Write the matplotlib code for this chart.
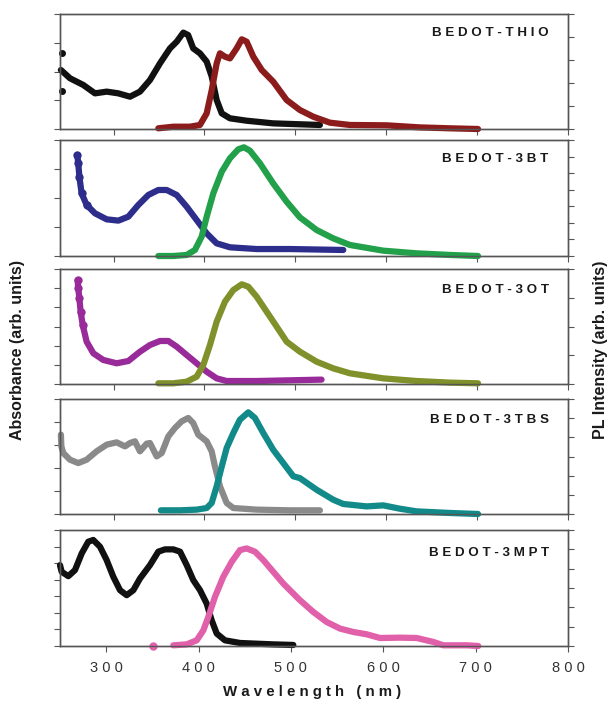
import numpy as np
import matplotlib.pyplot as plt

plt.rcParams['font.family'] = ['Liberation Sans', 'DejaVu Sans']

# ---- data (wavelength in nm, intensity as fraction of each panel height) ----
# BEDOT-THIO
thio_abs_x = [242, 252, 266.6, 279.5, 292.4, 305.2, 318, 329, 340, 351, 362, 369.4, 376.7, 382,
              387.6, 395, 402.4, 408, 413.4, 419, 428, 446.4, 475.6, 505, 527]
thio_abs_y = [0.513, 0.441, 0.383, 0.310, 0.325, 0.310, 0.281, 0.325, 0.426, 0.571, 0.701, 0.759,
              0.838, 0.817, 0.701, 0.658, 0.586, 0.455, 0.252, 0.136, 0.093, 0.072, 0.049, 0.041, 0.035]
thio_abs_noise_x = [243, 243]
thio_abs_noise_y = [0.66, 0.33]
thio_pl_x = [349.2, 365.7, 384, 395, 402.4, 408, 413.4, 417, 422.5, 428, 435.4, 441, 446.4, 453.7,
             463, 475.6, 490.4, 505, 519.7, 538, 560, 600.4, 637, 670, 701]
thio_pl_y = [0.006, 0.02, 0.02, 0.035, 0.136, 0.339, 0.571, 0.658, 0.629, 0.614, 0.701, 0.78, 0.759,
             0.629, 0.513, 0.412, 0.252, 0.165, 0.107, 0.055, 0.035, 0.032, 0.014, 0.006, 0.0]

# BEDOT-3BT
bt_abs_x = [260, 261.1, 262.3, 264.8, 270.3, 279.5, 292.4, 305.2, 316.2, 327.2, 338.2, 349.2, 358.4,
            369.4, 380.4, 391.4, 402.4, 413.4, 428, 457.4, 494, 552.7]
bt_abs_y = [0.871, 0.799, 0.684, 0.540, 0.440, 0.368, 0.316, 0.305, 0.339, 0.440, 0.526, 0.569, 0.569,
            0.526, 0.425, 0.310, 0.195, 0.109, 0.075, 0.060, 0.060, 0.052]
bt_pl_x = [349.2, 365.7, 380.4, 389.5, 396.9, 402.4, 409.7, 419, 428, 437.2, 443.4, 450, 461, 475.6,
           490.4, 505, 523.4, 541.7, 560, 596.7, 633.4, 670, 701]
bt_pl_y = [0.0, 0.0, 0.009, 0.052, 0.167, 0.339, 0.540, 0.727, 0.842, 0.920, 0.937, 0.908, 0.799,
           0.626, 0.468, 0.333, 0.224, 0.152, 0.095, 0.046, 0.023, 0.009, 0.0]

# BEDOT-3OT
ot_abs_x = [260.4, 261.1, 262.3, 263.7, 266, 270.3, 277.7, 288.6, 303.3, 316.2, 329, 340, 351, 360.2,
            369.4, 380.4, 391.4, 402.4, 413.4, 424.4, 457.4, 494, 528.8]
ot_abs_y = [0.904, 0.832, 0.745, 0.629, 0.513, 0.368, 0.267, 0.209, 0.180, 0.200, 0.281, 0.339, 0.374,
            0.374, 0.325, 0.252, 0.180, 0.107, 0.049, 0.026, 0.026, 0.032, 0.038]
ot_pl_x = [349.2, 365.7, 380.4, 391.4, 398.7, 406, 413.4, 422.5, 431.7, 441, 448.2, 457.4, 468.4,
           479.4, 490.4, 505, 523.4, 541.7, 560, 596.7, 633.4, 670, 701]
ot_pl_y = [0.006, 0.006, 0.02, 0.064, 0.165, 0.339, 0.542, 0.716, 0.817, 0.867, 0.846, 0.759, 0.629,
           0.499, 0.368, 0.281, 0.194, 0.136, 0.093, 0.049, 0.026, 0.012, 0.006]

# BEDOT-3TBS
tbs_abs_x = [242, 242.5, 244.6, 252, 261.1, 270.3, 281.3, 292.4, 303.3, 312.5, 318, 323.5, 329, 336.4,
             340, 347.4, 352.9, 360.2, 367.5, 374.9, 382.1, 387.6, 393.1, 402.4, 407.9, 411.5, 417,
             424.4, 431.7, 457.4, 494, 527]
tbs_abs_y = [0.690, 0.588, 0.530, 0.472, 0.443, 0.472, 0.545, 0.603, 0.623, 0.588, 0.617, 0.632,
             0.545, 0.612, 0.617, 0.501, 0.530, 0.675, 0.748, 0.806, 0.835, 0.791, 0.690, 0.632,
             0.545, 0.414, 0.241, 0.096, 0.052, 0.038, 0.032, 0.032]
tbs_pl_x = [352, 373, 391.4, 402.4, 407.9, 413.4, 419, 424.4, 431.7, 439, 448.2, 455.5, 464.7, 475.6,
            486.7, 497.7, 505, 523.4, 541.7, 552.7, 578.4, 596.7, 615, 633.4, 670, 701]
tbs_pl_y = [0.032, 0.032, 0.038, 0.052, 0.096, 0.241, 0.414, 0.574, 0.704, 0.820, 0.884, 0.835,
            0.704, 0.559, 0.443, 0.328, 0.312, 0.211, 0.124, 0.087, 0.066, 0.075, 0.046, 0.023,
            0.009, 0.0]

# BEDOT-3MPT
mpt_abs_x = [250, 251.8, 259, 266.2, 273.5, 280.6, 286, 293.3, 300.5, 307.7, 315, 322.2, 329.4, 336.6,
             347.4, 356.4, 363.7, 372.7, 380, 387.2, 394.3, 401.6, 408.8, 414.2, 419.7, 428.6, 444.9,
             481, 502.6]
mpt_abs_y = [0.697, 0.640, 0.602, 0.654, 0.798, 0.899, 0.914, 0.856, 0.741, 0.597, 0.481, 0.438,
             0.481, 0.582, 0.697, 0.813, 0.833, 0.833, 0.813, 0.697, 0.568, 0.481, 0.366, 0.222,
             0.107, 0.049, 0.026, 0.014, 0.009]
mpt_pl_dot_x = [351]
mpt_pl_dot_y = [0.0]
mpt_pl_x = [372.7, 387.2, 398, 405.2, 410.6, 417.8, 426.8, 435.9, 444.9, 452.1, 461.1, 470.1, 480.9,
            491.7, 502.6, 509.8, 524.2, 538.7, 553.2, 567.5, 582, 596.5, 618, 636.2, 654.2, 665,
            690.3, 702.9]
mpt_pl_y = [0.006, 0.014, 0.049, 0.135, 0.251, 0.424, 0.597, 0.726, 0.827, 0.841, 0.813, 0.741,
            0.640, 0.539, 0.452, 0.395, 0.294, 0.207, 0.150, 0.121, 0.101, 0.069, 0.072, 0.069,
            0.035, 0.006, 0.006, 0.0]

names = ['BEDOT-THIO', 'BEDOT-3BT', 'BEDOT-3OT', 'BEDOT-3TBS', 'BEDOT-3MPT']
abs_data = [(thio_abs_x, thio_abs_y), (bt_abs_x, bt_abs_y), (ot_abs_x, ot_abs_y),
            (tbs_abs_x, tbs_abs_y), (mpt_abs_x, mpt_abs_y)]
pl_data = [(thio_pl_x, thio_pl_y), (bt_pl_x, bt_pl_y), (ot_pl_x, ot_pl_y),
           (tbs_pl_x, tbs_pl_y), (mpt_pl_x, mpt_pl_y)]
abs_colors = ['#111111', '#2d2d8c', '#992a99', '#8a8a8a', '#111111']
pl_colors = ['#8c1c1c', '#22a04a', '#80902a', '#138a8a', '#e060aa']
left_ticks = [4, 4, 6, 5, 7]
right_ticks = [5, 7, 4, 6, 6]
x_ticks = [300, 400, 500, 600, 700, 800]

# panel boxes in pixels (top, bottom) of a 610x702 figure
W, H = 610, 702
panel_px = [(14, 129), (140, 256), (269, 384), (399, 514), (530, 646)]
label_y = [0.835, 0.836, 0.817, 0.817, 0.80]

fig = plt.figure(figsize=(W / 100, H / 100), dpi=100)
spine_col = '#555555'

for i, (top, bot) in enumerate(panel_px):
    ax = fig.add_axes([60 / W, 1 - bot / H, 508 / W, (bot - top) / H])
    ax2 = ax.twinx()
    last = i == len(panel_px) - 1
    xlim = (250, 800) if last else (241, 800)

    for a in (ax, ax2):
        a.set_xlim(*xlim)
        a.set_ylim(0, 1)
        for s in a.spines.values():
            s.set_color(spine_col)
            s.set_linewidth(1.0)

    ax.set_yticks(np.linspace(0, 1, left_ticks[i] + 1))
    ax2.set_yticks(np.linspace(0, 1, right_ticks[i] + 1))
    ax.set_xticks(x_ticks)
    ax.tick_params(axis='both', direction='out', length=4, width=0.8, color=spine_col,
                   labelleft=False, labelbottom=last, labelsize=10.5, labelcolor='#333333', pad=7)
    ax2.tick_params(axis='y', direction='out', length=4, width=0.8, color=spine_col, labelright=False)
    if last:
        ax.set_xticklabels([' '.join(str(v)) for v in x_ticks])

    ax_x, ax_y = abs_data[i]
    pl_x, pl_y = pl_data[i]
    kw = dict(lw=4.5, solid_capstyle='round', solid_joinstyle='round', clip_on=False)
    ax.plot(ax_x, ax_y, color=abs_colors[i], **kw)
    if i in (1, 2):
        # dotted start of the absorbance scan
        ax.plot(ax_x[:5], ax_y[:5], 'o', color=abs_colors[i], ms=6, mew=0, clip_on=False)
    ax2.plot(pl_x, pl_y, color=pl_colors[i], **kw)

    ax.text(0.962, label_y[i], ' '.join(names[i]), transform=ax.transAxes, ha='right',
            va='center', fontsize=9.6, fontweight='bold', color='#1a1a1a')

    if i == 0:
        ax.plot(thio_abs_noise_x, thio_abs_noise_y, 'o', color='#111111', ms=4, clip_on=False)
    if last:
        ax2.plot(mpt_pl_dot_x, mpt_pl_dot_y, 'o', color=pl_colors[i], ms=5, clip_on=False)

fig.text(312 / W, 1 - 692 / H, 'W a v e l e n g t h   ( n m )', ha='center', va='center',
         fontsize=10.8, fontweight='bold', color='#1a1a1a')
fig.text(18 / W, 1 - 350 / H, 'Absorbance (arb. units)', rotation=90, ha='center', va='center',
         fontsize=11.5, fontweight='bold', color='#1a1a1a')
fig.text(600 / W, 1 - 350 / H, 'PL Intensity (arb. units)', rotation=90, ha='center', va='center',
         fontsize=11.5, fontweight='bold', color='#1a1a1a')

fig.savefig('out.png', dpi=100)
